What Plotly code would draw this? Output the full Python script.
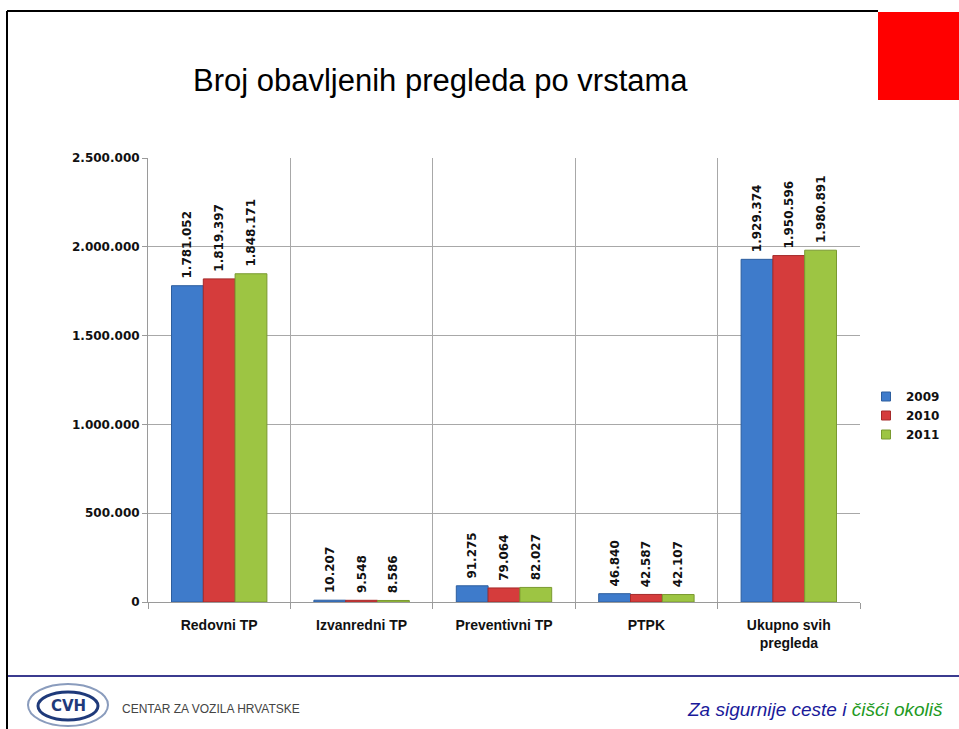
import plotly.graph_objects as go

categories = ["Redovni TP", "Izvanredni TP", "Preventivni TP", "PTPK", "Ukupno svih<br>pregleda"]
years = ["2009", "2010", "2011"]
v2009 = [1781052, 10207, 91275, 46840, 1929374]
v2010 = [1819397, 9548, 79064, 42587, 1950596]
v2011 = [1848171, 8586, 82027, 42107, 1980891]
series = [v2009, v2010, v2011]
colors = ["#3E7BCB", "#D53C3C", "#9DC543"]
lines = ["#2D5E9E", "#A52A2A", "#7A9A30"]
y_ticks = [0, 500000, 1000000, 1500000, 2000000, 2500000]

W, H = 959, 729
L, R, T, B = 148, 860, 158, 602

def px(x):
    return (x - L) / (R - L)

def py(y):
    return (B - y) / (B - T)

fig = go.Figure()
for name, vals, c, lc in zip(years, series, colors, lines):
    fig.add_trace(go.Bar(
        x=categories, y=vals, name=name, showlegend=False,
        marker=dict(color=c, line=dict(color=lc, width=1)),
        texttemplate="\u00a0%{y:,d}", textposition="outside", textangle=-90,
        constraintext="none",
        textfont=dict(family="DejaVu Sans", size=12, color="#111111", weight="bold"),
        cliponaxis=False,
    ))
# legend entries with small square swatches
for name, c, lc in zip(years, colors, lines):
    fig.add_trace(go.Scatter(
        x=[None], y=[None], name=name, mode="markers",
        marker=dict(symbol="square", size=9, color=c, line=dict(color=lc, width=1)),
        showlegend=True,
    ))

fig.update_layout(
    width=W, height=H,
    margin=dict(l=L, r=W - R, t=T, b=H - B, pad=0, autoexpand=False),
    paper_bgcolor="white", plot_bgcolor="white",
    separators=",.",
    barmode="group", bargap=0.33, bargroupgap=0.0,
    showlegend=True,
    legend=dict(x=px(866), y=py(382), xanchor="left", yanchor="top",
                font=dict(family="DejaVu Sans", size=12, color="#111111", weight="bold"),
                itemwidth=30, tracegroupgap=0, bgcolor="rgba(0,0,0,0)"),
    font=dict(family="Liberation Sans, sans-serif"),
)
fig.update_xaxes(
    showline=True, linecolor="#9a9a9a", linewidth=1,
    tickson="boundaries", ticks="outside", ticklen=6, tickcolor="#9a9a9a",
    ticklabelstandoff=10,
    showgrid=True, gridcolor="#a8a8a8", gridwidth=1,
    tickfont=dict(family="Liberation Sans, sans-serif", size=14, color="#111111", weight="bold"),
)
fig.update_yaxes(
    range=[0, 2500000], tickvals=y_ticks, tickformat=",d",
    showline=True, linecolor="#9a9a9a", linewidth=1,
    ticks="outside", ticklen=5, tickcolor="#9a9a9a",
    showgrid=True, gridcolor="#a8a8a8", gridwidth=1,
    tickfont=dict(family="DejaVu Sans", size=12, color="#111111", weight="bold"),
    zeroline=False,
)

shapes = [
    dict(type="line", xref="paper", yref="paper", x0=px(7), x1=px(878), y0=py(11), y1=py(11),
         line=dict(color="black", width=2)),
    dict(type="line", xref="paper", yref="paper", x0=px(7), x1=px(7), y0=py(11), y1=py(729),
         line=dict(color="black", width=2)),
    dict(type="rect", xref="paper", yref="paper", x0=px(878), x1=px(959), y0=py(12), y1=py(100),
         fillcolor="#FF0000", line=dict(width=0)),
    dict(type="line", xref="paper", yref="paper", x0=px(8), x1=px(959), y0=py(676), y1=py(676),
         line=dict(color="#3B3B8F", width=2)),
    dict(type="circle", xref="paper", yref="paper", x0=px(28), x1=px(108), y0=py(684), y1=py(726),
         line=dict(color="#8A9CBD", width=2), fillcolor="white"),
    dict(type="circle", xref="paper", yref="paper", x0=px(38), x1=px(98), y0=py(692), y1=py(720),
         line=dict(color="#1F3A7A", width=3), fillcolor="white"),
]

annotations = [
    dict(text="Broj obavljenih pregleda po vrstama", xref="paper", yref="paper",
         x=px(440), y=py(80), xanchor="center", yanchor="middle", showarrow=False,
         font=dict(family="Liberation Sans, sans-serif", size=31, color="black")),
    dict(text="<b>CVH</b>", xref="paper", yref="paper", x=px(68), y=py(706),
         xanchor="center", yanchor="middle", showarrow=False,
         font=dict(family="DejaVu Sans", size=15, color="#1F3A7A")),
    dict(text="CENTAR ZA VOZILA HRVATSKE", xref="paper", yref="paper", x=px(120), y=py(709),
         xanchor="left", yanchor="middle", showarrow=False,
         font=dict(family="Liberation Sans, sans-serif", size=12, color="#444444")),
    dict(text="<i>Za sigurnije ceste i <span style='color:#1E9A1E'>čišći okoliš</span></i>",
         xref="paper", yref="paper", x=px(945), y=py(709),
         xanchor="right", yanchor="middle", showarrow=False,
         font=dict(family="Liberation Sans, sans-serif", size=19, color="#1A1A9A")),
]

fig.update_layout(shapes=shapes, annotations=annotations)
fig.write_html(
    "out.html",
    config={"displayModeBar": False},
    post_script="document.body.style.margin='0';document.body.style.overflow='hidden';",
)
